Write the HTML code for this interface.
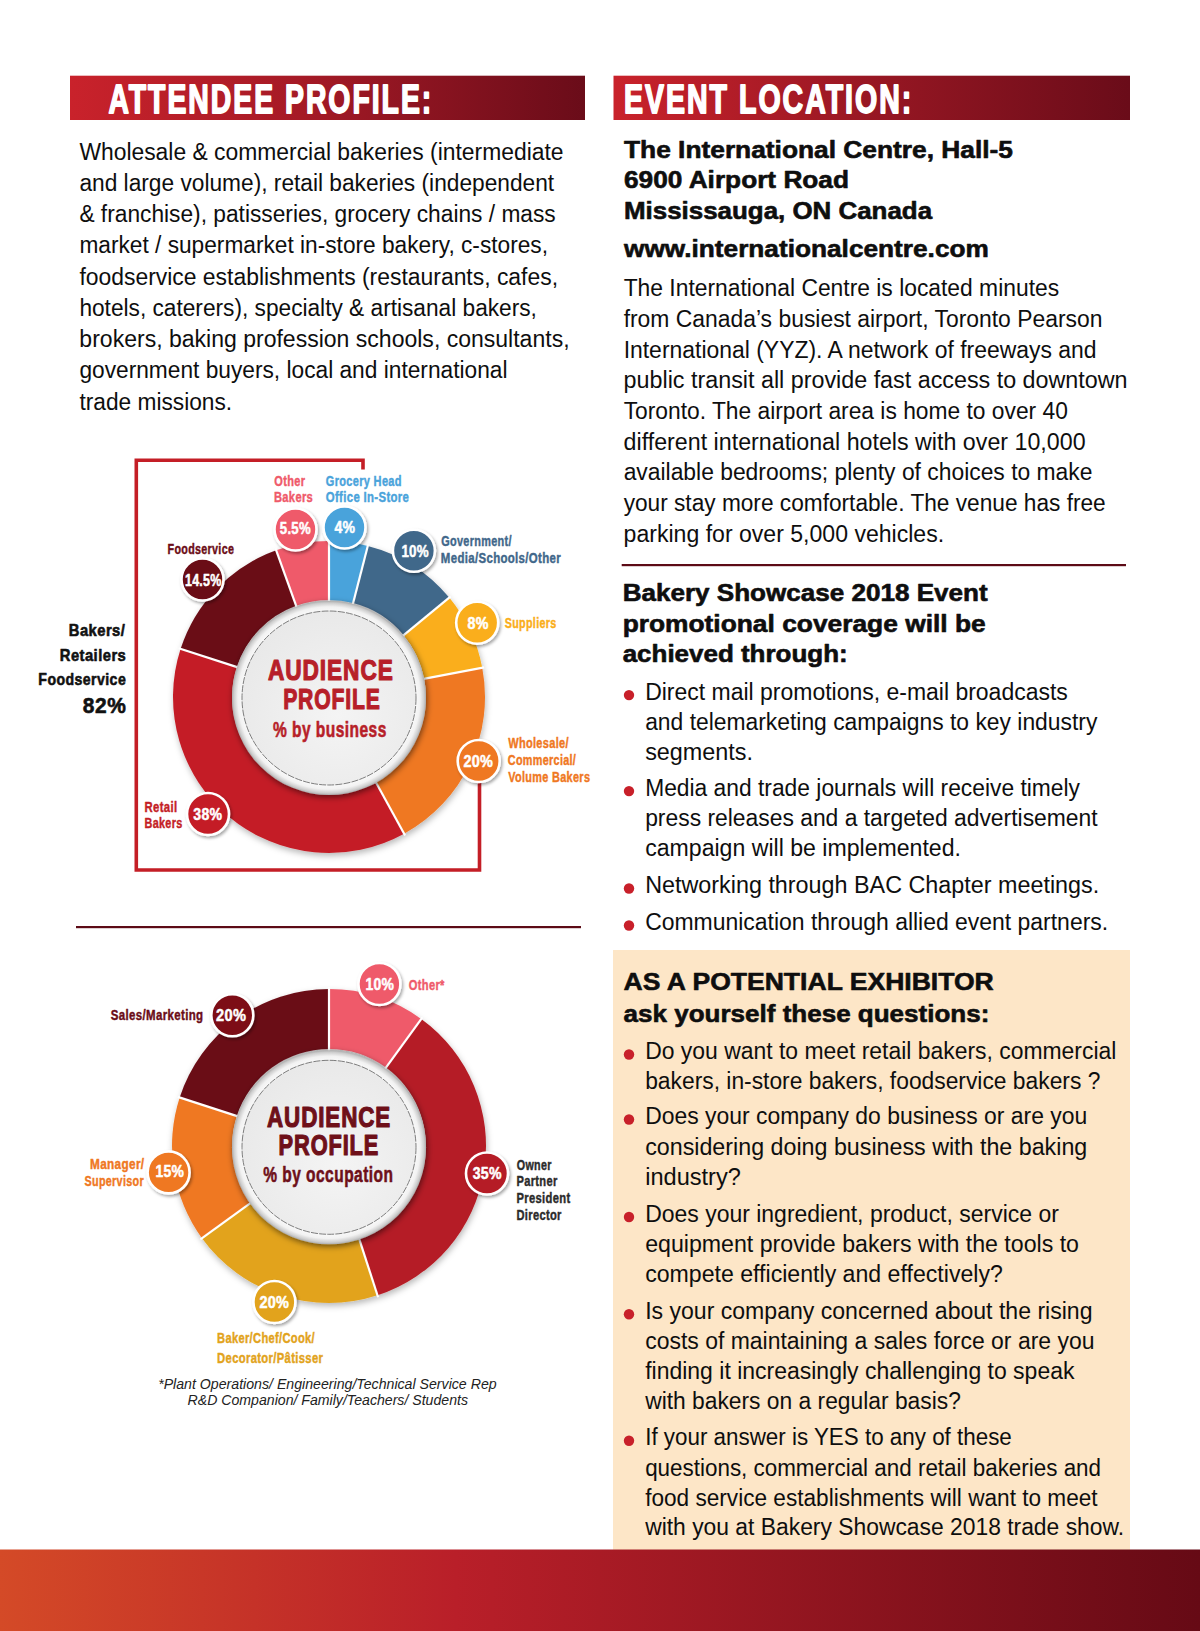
<!DOCTYPE html>
<html><head><meta charset="utf-8"><title>Attendee Profile</title>
<style>
html,body{margin:0;padding:0;background:#fff;}
svg{display:block;}
text{font-family:"Liberation Sans",sans-serif;}
</style></head><body>
<svg width="1200" height="1631" viewBox="0 0 1200 1631">
<defs>
<linearGradient id="hdrL" x1="0" x2="1" y1="0" y2="0"><stop offset="0" stop-color="#c9222b"/><stop offset="0.45" stop-color="#a51a26"/><stop offset="1" stop-color="#6a0c19"/></linearGradient>
<linearGradient id="hdrR" x1="0" x2="1" y1="0" y2="0"><stop offset="0" stop-color="#c9222b"/><stop offset="0.45" stop-color="#9c1824"/><stop offset="1" stop-color="#6a0c19"/></linearGradient>
<linearGradient id="btm" x1="0" x2="1" y1="0" y2="0"><stop offset="0" stop-color="#d44a27"/><stop offset="0.38" stop-color="#b91f29"/><stop offset="1" stop-color="#660a15"/></linearGradient>
<radialGradient id="rim" cx="0.5" cy="0.5" r="0.5"><stop offset="0.88" stop-color="#fbfbfb"/><stop offset="0.94" stop-color="#f2f2f2"/><stop offset="0.98" stop-color="#cdcdcd"/><stop offset="1" stop-color="#acacac"/></radialGradient>
<radialGradient id="face" cx="0.55" cy="0.6" r="0.6"><stop offset="0" stop-color="#f4f4f4"/><stop offset="1" stop-color="#e9e9e9"/></radialGradient>
<filter id="ringsh" x="-20%" y="-20%" width="140%" height="140%"><feDropShadow dx="1" dy="3" stdDeviation="3" flood-color="#000" flood-opacity="0.28"/></filter>
<filter id="platesh" x="-20%" y="-20%" width="140%" height="140%"><feDropShadow dx="1" dy="2" stdDeviation="3" flood-color="#000" flood-opacity="0.55"/></filter>
<filter id="badgesh" x="-40%" y="-40%" width="180%" height="180%"><feDropShadow dx="1.5" dy="2" stdDeviation="1.5" flood-color="#000" flood-opacity="0.35"/></filter>
</defs>
<rect width="1200" height="1631" fill="#fff"/>
<rect x="70" y="75.7" width="515" height="44.3" fill="url(#hdrL)"/>
<rect x="613.5" y="75.7" width="516.5" height="44.3" fill="url(#hdrR)"/>
<text x="108.40" y="113.10" font-size="40.98" font-weight="bold" font-style="normal" fill="#fff" textLength="324.90" lengthAdjust="spacingAndGlyphs" stroke="#fff" stroke-width="1.8" stroke-linejoin="round" letter-spacing="2.869">ATTENDEE PROFILE:</text>
<text x="623.96" y="113.10" font-size="40.98" font-weight="bold" font-style="normal" fill="#fff" textLength="289.31" lengthAdjust="spacingAndGlyphs" stroke="#fff" stroke-width="1.8" stroke-linejoin="round" letter-spacing="2.869">EVENT LOCATION:</text>
<text x="79.39" y="159.50" font-size="23.00" font-weight="normal" fill="#0e0e0e" textLength="484.15" lengthAdjust="spacingAndGlyphs">Wholesale &amp; commercial bakeries (intermediate</text>
<text x="79.39" y="190.75" font-size="23.00" font-weight="normal" fill="#0e0e0e" textLength="474.77" lengthAdjust="spacingAndGlyphs">and large volume), retail bakeries (independent</text>
<text x="79.39" y="222.00" font-size="23.00" font-weight="normal" fill="#0e0e0e" textLength="476.36" lengthAdjust="spacingAndGlyphs">&amp; franchise), patisseries, grocery chains / mass</text>
<text x="79.39" y="253.25" font-size="23.00" font-weight="normal" fill="#0e0e0e" textLength="468.65" lengthAdjust="spacingAndGlyphs">market / supermarket in-store bakery, c-stores,</text>
<text x="79.39" y="284.50" font-size="23.00" font-weight="normal" fill="#0e0e0e" textLength="478.65" lengthAdjust="spacingAndGlyphs">foodservice establishments (restaurants, cafes,</text>
<text x="79.39" y="315.75" font-size="23.00" font-weight="normal" fill="#0e0e0e" textLength="457.56" lengthAdjust="spacingAndGlyphs">hotels, caterers), specialty &amp; artisanal bakers,</text>
<text x="79.39" y="347.00" font-size="23.00" font-weight="normal" fill="#0e0e0e" textLength="490.17" lengthAdjust="spacingAndGlyphs">brokers, baking profession schools, consultants,</text>
<text x="79.39" y="378.25" font-size="23.00" font-weight="normal" fill="#0e0e0e" textLength="428.10" lengthAdjust="spacingAndGlyphs">government buyers, local and international</text>
<text x="79.39" y="409.50" font-size="23.00" font-weight="normal" fill="#0e0e0e" textLength="152.77" lengthAdjust="spacingAndGlyphs">trade missions.</text>
<text x="624.02" y="157.70" font-size="23.84" font-weight="bold" fill="#0e0e0e" textLength="388.88" lengthAdjust="spacingAndGlyphs" stroke="#0e0e0e" stroke-width="0.6" stroke-linejoin="round">The International Centre, Hall-5</text>
<text x="624.02" y="188.20" font-size="23.84" font-weight="bold" fill="#0e0e0e" textLength="224.95" lengthAdjust="spacingAndGlyphs" stroke="#0e0e0e" stroke-width="0.6" stroke-linejoin="round">6900 Airport Road</text>
<text x="624.02" y="218.70" font-size="23.84" font-weight="bold" fill="#0e0e0e" textLength="308.03" lengthAdjust="spacingAndGlyphs" stroke="#0e0e0e" stroke-width="0.6" stroke-linejoin="round">Mississauga, ON Canada</text>
<text x="624.02" y="257.20" font-size="23.84" font-weight="bold" fill="#0e0e0e" textLength="364.79" lengthAdjust="spacingAndGlyphs" stroke="#0e0e0e" stroke-width="0.6" stroke-linejoin="round">www.internationalcentre.com</text>
<text x="623.64" y="296.30" font-size="23.00" font-weight="normal" fill="#0e0e0e" textLength="435.49" lengthAdjust="spacingAndGlyphs">The International Centre is located minutes</text>
<text x="623.64" y="326.96" font-size="23.00" font-weight="normal" fill="#0e0e0e" textLength="478.84" lengthAdjust="spacingAndGlyphs">from Canada’s busiest airport, Toronto Pearson</text>
<text x="623.64" y="357.62" font-size="23.00" font-weight="normal" fill="#0e0e0e" textLength="472.90" lengthAdjust="spacingAndGlyphs">International (YYZ). A network of freeways and</text>
<text x="623.64" y="388.28" font-size="23.00" font-weight="normal" fill="#0e0e0e" textLength="503.93" lengthAdjust="spacingAndGlyphs">public transit all provide fast access to downtown</text>
<text x="623.64" y="418.94" font-size="23.00" font-weight="normal" fill="#0e0e0e" textLength="444.22" lengthAdjust="spacingAndGlyphs">Toronto. The airport area is home to over 40</text>
<text x="623.64" y="449.60" font-size="23.00" font-weight="normal" fill="#0e0e0e" textLength="461.94" lengthAdjust="spacingAndGlyphs">different international hotels with over 10,000</text>
<text x="623.64" y="480.26" font-size="23.00" font-weight="normal" fill="#0e0e0e" textLength="468.83" lengthAdjust="spacingAndGlyphs">available bedrooms; plenty of choices to make</text>
<text x="623.64" y="510.92" font-size="23.00" font-weight="normal" fill="#0e0e0e" textLength="482.09" lengthAdjust="spacingAndGlyphs">your stay more comfortable. The venue has free</text>
<text x="623.64" y="541.58" font-size="23.00" font-weight="normal" fill="#0e0e0e" textLength="320.48" lengthAdjust="spacingAndGlyphs">parking for over 5,000 vehicles.</text>
<rect x="621.7" y="564" width="504.3" height="2.2" fill="#5c0b16"/>
<text x="622.66" y="601.30" font-size="23.84" font-weight="bold" fill="#0e0e0e" textLength="365.02" lengthAdjust="spacingAndGlyphs" stroke="#0e0e0e" stroke-width="0.6" stroke-linejoin="round">Bakery Showcase 2018 Event</text>
<text x="622.66" y="632.10" font-size="23.84" font-weight="bold" fill="#0e0e0e" textLength="363.01" lengthAdjust="spacingAndGlyphs" stroke="#0e0e0e" stroke-width="0.6" stroke-linejoin="round">promotional coverage will be</text>
<text x="622.66" y="661.90" font-size="23.84" font-weight="bold" fill="#0e0e0e" textLength="225.00" lengthAdjust="spacingAndGlyphs" stroke="#0e0e0e" stroke-width="0.6" stroke-linejoin="round">achieved through:</text>
<circle cx="629" cy="695.10" r="5.2" fill="#c8202a"/>
<text x="645.16" y="699.60" font-size="23.00" font-weight="normal" fill="#0e0e0e" textLength="422.66" lengthAdjust="spacingAndGlyphs">Direct mail promotions, e-mail broadcasts</text>
<text x="645.16" y="729.80" font-size="23.00" font-weight="normal" fill="#0e0e0e" textLength="452.21" lengthAdjust="spacingAndGlyphs">and telemarketing campaigns to key industry</text>
<text x="645.16" y="759.50" font-size="23.00" font-weight="normal" fill="#0e0e0e" textLength="107.82" lengthAdjust="spacingAndGlyphs">segments.</text>
<circle cx="629" cy="791.10" r="5.2" fill="#c8202a"/>
<text x="645.16" y="795.60" font-size="23.00" font-weight="normal" fill="#0e0e0e" textLength="434.83" lengthAdjust="spacingAndGlyphs">Media and trade journals will receive timely</text>
<text x="645.16" y="826.00" font-size="23.00" font-weight="normal" fill="#0e0e0e" textLength="452.46" lengthAdjust="spacingAndGlyphs">press releases and a targeted advertisement</text>
<text x="645.16" y="856.00" font-size="23.00" font-weight="normal" fill="#0e0e0e" textLength="315.81" lengthAdjust="spacingAndGlyphs">campaign will be implemented.</text>
<circle cx="629" cy="888.50" r="5.2" fill="#c8202a"/>
<text x="645.16" y="893.00" font-size="23.00" font-weight="normal" fill="#0e0e0e" textLength="454.05" lengthAdjust="spacingAndGlyphs">Networking through BAC Chapter meetings.</text>
<circle cx="629" cy="925.50" r="5.2" fill="#c8202a"/>
<text x="645.16" y="930.00" font-size="23.00" font-weight="normal" fill="#0e0e0e" textLength="462.98" lengthAdjust="spacingAndGlyphs">Communication through allied event partners.</text>
<rect x="613" y="950" width="517" height="600" fill="#fde6c7"/>
<text x="623.61" y="990.20" font-size="24.56" font-weight="bold" font-style="normal" fill="#0e0e0e" textLength="370.18" lengthAdjust="spacingAndGlyphs" stroke="#0e0e0e" stroke-width="0.6" stroke-linejoin="round">AS A POTENTIAL EXHIBITOR</text>
<text x="623.63" y="1021.70" font-size="24.56" font-weight="bold" fill="#0e0e0e" textLength="365.71" lengthAdjust="spacingAndGlyphs" stroke="#0e0e0e" stroke-width="0.6" stroke-linejoin="round">ask yourself these questions:</text>
<circle cx="629" cy="1054.50" r="5.2" fill="#c8202a"/>
<text x="645.16" y="1059.00" font-size="23.00" font-weight="normal" fill="#0e0e0e" textLength="471.22" lengthAdjust="spacingAndGlyphs">Do you want to meet retail bakers, commercial</text>
<text x="645.16" y="1089.00" font-size="23.00" font-weight="normal" fill="#0e0e0e" textLength="455.22" lengthAdjust="spacingAndGlyphs">bakers, in-store bakers, foodservice bakers ?</text>
<circle cx="629" cy="1119.50" r="5.2" fill="#c8202a"/>
<text x="645.16" y="1124.00" font-size="23.00" font-weight="normal" fill="#0e0e0e" textLength="442.11" lengthAdjust="spacingAndGlyphs">Does your company do business or are you</text>
<text x="645.16" y="1155.00" font-size="23.00" font-weight="normal" fill="#0e0e0e" textLength="442.11" lengthAdjust="spacingAndGlyphs">considering doing business with the baking</text>
<text x="645.16" y="1185.00" font-size="23.00" font-weight="normal" fill="#0e0e0e" textLength="95.73" lengthAdjust="spacingAndGlyphs">industry?</text>
<circle cx="629" cy="1217.00" r="5.2" fill="#c8202a"/>
<text x="645.16" y="1221.50" font-size="23.00" font-weight="normal" fill="#0e0e0e" textLength="413.68" lengthAdjust="spacingAndGlyphs">Does your ingredient, product, service or</text>
<text x="645.16" y="1252.00" font-size="23.00" font-weight="normal" fill="#0e0e0e" textLength="433.84" lengthAdjust="spacingAndGlyphs">equipment provide bakers with the tools to</text>
<text x="645.16" y="1282.00" font-size="23.00" font-weight="normal" fill="#0e0e0e" textLength="357.71" lengthAdjust="spacingAndGlyphs">compete efficiently and effectively?</text>
<circle cx="629" cy="1314.30" r="5.2" fill="#c8202a"/>
<text x="645.16" y="1318.80" font-size="23.00" font-weight="normal" fill="#0e0e0e" textLength="447.35" lengthAdjust="spacingAndGlyphs">Is your company concerned about the rising</text>
<text x="645.16" y="1349.00" font-size="23.00" font-weight="normal" fill="#0e0e0e" textLength="449.35" lengthAdjust="spacingAndGlyphs">costs of maintaining a sales force or are you</text>
<text x="645.16" y="1379.00" font-size="23.00" font-weight="normal" fill="#0e0e0e" textLength="429.31" lengthAdjust="spacingAndGlyphs">finding it increasingly challenging to speak</text>
<text x="645.16" y="1409.00" font-size="23.00" font-weight="normal" fill="#0e0e0e" textLength="315.66" lengthAdjust="spacingAndGlyphs">with bakers on a regular basis?</text>
<circle cx="629" cy="1440.80" r="5.2" fill="#c8202a"/>
<text x="645.16" y="1445.30" font-size="23.00" font-weight="normal" fill="#0e0e0e" textLength="366.63" lengthAdjust="spacingAndGlyphs">If your answer is YES to any of these</text>
<text x="645.16" y="1476.00" font-size="23.00" font-weight="normal" fill="#0e0e0e" textLength="455.88" lengthAdjust="spacingAndGlyphs">questions, commercial and retail bakeries and</text>
<text x="645.16" y="1506.00" font-size="23.00" font-weight="normal" fill="#0e0e0e" textLength="452.45" lengthAdjust="spacingAndGlyphs">food service establishments will want to meet</text>
<text x="645.16" y="1535.40" font-size="23.00" font-weight="normal" fill="#0e0e0e" textLength="478.94" lengthAdjust="spacingAndGlyphs">with you at Bakery Showcase 2018 trade show.</text>
<rect x="0" y="1549.5" width="1200" height="82" fill="url(#btm)"/>
<rect x="76" y="926" width="505" height="2.2" fill="#5c0b16"/>
<path d="M363,469.5 V460.3 H136.3 V870 H479.5 V783" fill="none" stroke="#c41e26" stroke-width="3.6"/>
<g filter="url(#ringsh)">
<path d="M329.00,541.00 A156,156 0 0 1 367.80,545.90 L353.12,603.05 A97,97 0 0 0 329.00,600.00 Z" fill="#4aa3db"/>
<path d="M367.80,545.90 A156,156 0 0 1 449.20,597.56 L403.74,635.17 A97,97 0 0 0 353.12,603.05 Z" fill="#41678a"/>
<path d="M449.20,597.56 A156,156 0 0 1 482.24,667.77 L424.28,678.82 A97,97 0 0 0 403.74,635.17 Z" fill="#faae1a"/>
<path d="M482.24,667.77 A156,156 0 0 1 404.15,833.70 L375.73,782.00 A97,97 0 0 0 424.28,678.82 Z" fill="#ef7823"/>
<path d="M404.15,833.70 A156,156 0 0 1 180.64,648.79 L236.75,667.03 A97,97 0 0 0 375.73,782.00 Z" fill="#c41e26"/>
<path d="M180.64,648.79 A156,156 0 0 1 276.16,550.22 L296.14,605.73 A97,97 0 0 0 236.75,667.03 Z" fill="#6b0d17"/>
<path d="M276.16,550.22 A156,156 0 0 1 329.00,541.00 L329.00,600.00 A97,97 0 0 0 296.14,605.73 Z" fill="#ef5a6a"/>
</g>
<line x1="329.00" y1="602.00" x2="329.00" y2="539.00" stroke="#fff" stroke-width="2.2"/>
<line x1="352.63" y1="604.98" x2="368.29" y2="543.96" stroke="#fff" stroke-width="2.2"/>
<line x1="402.20" y1="636.44" x2="450.74" y2="596.29" stroke="#fff" stroke-width="2.2"/>
<line x1="422.32" y1="679.20" x2="484.20" y2="667.39" stroke="#fff" stroke-width="2.2"/>
<line x1="374.77" y1="780.25" x2="405.12" y2="835.46" stroke="#fff" stroke-width="2.2"/>
<line x1="238.65" y1="667.64" x2="178.73" y2="648.18" stroke="#fff" stroke-width="2.2"/>
<line x1="296.82" y1="607.62" x2="275.48" y2="548.34" stroke="#fff" stroke-width="2.2"/>
<circle cx="329" cy="698" r="97" fill="url(#rim)" filter="url(#platesh)"/>
<circle cx="329" cy="698" r="87" fill="url(#face)"/>
<circle cx="329" cy="698" r="87" fill="none" stroke="#6f6f6f" stroke-width="0.9" stroke-dasharray="7 1.2"/>
<text x="267.97" y="680.20" font-size="28.76" font-weight="bold" font-style="normal" fill="#b71f29" textLength="125.75" lengthAdjust="spacingAndGlyphs" stroke="#b71f29" stroke-width="1.2" stroke-linejoin="round" letter-spacing="1.150">AUDIENCE</text>
<text x="283.17" y="709.40" font-size="28.76" font-weight="bold" font-style="normal" fill="#b71f29" textLength="97.56" lengthAdjust="spacingAndGlyphs" stroke="#b71f29" stroke-width="1.2" stroke-linejoin="round" letter-spacing="1.150">PROFILE</text>
<text x="272.88" y="736.50" font-size="22.13" font-weight="bold" font-style="normal" fill="#b71f29" textLength="113.96" lengthAdjust="spacingAndGlyphs" stroke="#b71f29" stroke-width="0.6" stroke-linejoin="round" letter-spacing="0.664">% by business</text>
<circle cx="295.5" cy="529.5" r="21" fill="#ef5a6a" stroke="#fff" stroke-width="2.6" filter="url(#badgesh)"/>
<circle cx="344.5" cy="527.5" r="21" fill="#4aa3db" stroke="#fff" stroke-width="2.6" filter="url(#badgesh)"/>
<circle cx="413.9" cy="550.7" r="21" fill="#41678a" stroke="#fff" stroke-width="2.6" filter="url(#badgesh)"/>
<circle cx="202.5" cy="579.5" r="21" fill="#6b0d17" stroke="#fff" stroke-width="2.6" filter="url(#badgesh)"/>
<circle cx="477.2" cy="622.8" r="21" fill="#faae1a" stroke="#fff" stroke-width="2.6" filter="url(#badgesh)"/>
<circle cx="478.7" cy="761" r="21" fill="#ef7823" stroke="#fff" stroke-width="2.6" filter="url(#badgesh)"/>
<circle cx="208" cy="814" r="21" fill="#c41e26" stroke="#fff" stroke-width="2.6" filter="url(#badgesh)"/>
<text x="279.83" y="534.25" font-size="16.27" font-weight="bold" font-style="normal" fill="#fff" textLength="31.03" lengthAdjust="spacingAndGlyphs" stroke="#fff" stroke-width="0.5" stroke-linejoin="round" letter-spacing="0.325">5.5%</text>
<text x="334.51" y="533.25" font-size="16.27" font-weight="bold" font-style="normal" fill="#fff" textLength="20.90" lengthAdjust="spacingAndGlyphs" stroke="#fff" stroke-width="0.5" stroke-linejoin="round" letter-spacing="0.325">4%</text>
<text x="184.98" y="585.50" font-size="16.27" font-weight="bold" font-style="normal" fill="#fff" textLength="36.62" lengthAdjust="spacingAndGlyphs" stroke="#fff" stroke-width="0.5" stroke-linejoin="round" letter-spacing="0.325">14.5%</text>
<text x="401.42" y="557.45" font-size="16.27" font-weight="bold" font-style="normal" fill="#fff" textLength="27.57" lengthAdjust="spacingAndGlyphs" stroke="#fff" stroke-width="0.5" stroke-linejoin="round" letter-spacing="0.325">10%</text>
<text x="467.50" y="629.05" font-size="16.27" font-weight="bold" font-style="normal" fill="#fff" textLength="21.23" lengthAdjust="spacingAndGlyphs" stroke="#fff" stroke-width="0.5" stroke-linejoin="round" letter-spacing="0.325">8%</text>
<text x="463.42" y="767.45" font-size="16.27" font-weight="bold" font-style="normal" fill="#fff" textLength="29.72" lengthAdjust="spacingAndGlyphs" stroke="#fff" stroke-width="0.5" stroke-linejoin="round" letter-spacing="0.325">20%</text>
<text x="193.37" y="819.75" font-size="16.27" font-weight="bold" font-style="normal" fill="#fff" textLength="29.06" lengthAdjust="spacingAndGlyphs" stroke="#fff" stroke-width="0.5" stroke-linejoin="round" letter-spacing="0.325">38%</text>
<text x="274.26" y="485.77" font-size="15.35" font-weight="bold" font-style="normal" fill="#ef5a6a" textLength="31.00" lengthAdjust="spacingAndGlyphs" stroke="#ef5a6a" stroke-width="0.45" stroke-linejoin="round" letter-spacing="0.460">Other</text>
<text x="273.98" y="502.27" font-size="15.35" font-weight="bold" font-style="normal" fill="#ef5a6a" textLength="39.11" lengthAdjust="spacingAndGlyphs" stroke="#ef5a6a" stroke-width="0.45" stroke-linejoin="round" letter-spacing="0.460">Bakers</text>
<text x="325.76" y="485.77" font-size="15.35" font-weight="bold" font-style="normal" fill="#4aa3db" textLength="76.06" lengthAdjust="spacingAndGlyphs" stroke="#4aa3db" stroke-width="0.45" stroke-linejoin="round" letter-spacing="0.460">Grocery Head</text>
<text x="325.75" y="502.27" font-size="15.35" font-weight="bold" font-style="normal" fill="#4aa3db" textLength="83.54" lengthAdjust="spacingAndGlyphs" stroke="#4aa3db" stroke-width="0.45" stroke-linejoin="round" letter-spacing="0.460">Office In-Store</text>
<text x="167.51" y="553.52" font-size="15.35" font-weight="bold" font-style="normal" fill="#6b0d17" textLength="66.75" lengthAdjust="spacingAndGlyphs" stroke="#6b0d17" stroke-width="0.45" stroke-linejoin="round" letter-spacing="0.460">Foodservice</text>
<text x="441.17" y="546.48" font-size="15.35" font-weight="bold" font-style="normal" fill="#41678a" textLength="70.64" lengthAdjust="spacingAndGlyphs" stroke="#41678a" stroke-width="0.45" stroke-linejoin="round" letter-spacing="0.460">Government/</text>
<text x="440.86" y="562.98" font-size="15.35" font-weight="bold" font-style="normal" fill="#41678a" textLength="120.17" lengthAdjust="spacingAndGlyphs" stroke="#41678a" stroke-width="0.45" stroke-linejoin="round" letter-spacing="0.460">Media/Schools/Other</text>
<text x="504.68" y="628.07" font-size="15.35" font-weight="bold" font-style="normal" fill="#faae1a" textLength="51.89" lengthAdjust="spacingAndGlyphs" stroke="#faae1a" stroke-width="0.45" stroke-linejoin="round" letter-spacing="0.460">Suppliers</text>
<text x="508.20" y="747.98" font-size="15.35" font-weight="bold" font-style="normal" fill="#ef7823" textLength="60.72" lengthAdjust="spacingAndGlyphs" stroke="#ef7823" stroke-width="0.45" stroke-linejoin="round" letter-spacing="0.460">Wholesale/</text>
<text x="507.77" y="765.27" font-size="15.35" font-weight="bold" font-style="normal" fill="#ef7823" textLength="68.43" lengthAdjust="spacingAndGlyphs" stroke="#ef7823" stroke-width="0.45" stroke-linejoin="round" letter-spacing="0.460">Commercial/</text>
<text x="508.15" y="781.77" font-size="15.35" font-weight="bold" font-style="normal" fill="#ef7823" textLength="82.13" lengthAdjust="spacingAndGlyphs" stroke="#ef7823" stroke-width="0.45" stroke-linejoin="round" letter-spacing="0.460">Volume Bakers</text>
<text x="144.46" y="811.77" font-size="15.35" font-weight="bold" font-style="normal" fill="#c41e26" textLength="32.95" lengthAdjust="spacingAndGlyphs" stroke="#c41e26" stroke-width="0.45" stroke-linejoin="round" letter-spacing="0.460">Retail</text>
<text x="144.50" y="828.27" font-size="15.35" font-weight="bold" font-style="normal" fill="#c41e26" textLength="38.07" lengthAdjust="spacingAndGlyphs" stroke="#c41e26" stroke-width="0.45" stroke-linejoin="round" letter-spacing="0.460">Bakers</text>
<text x="68.81" y="636.20" font-size="17.13" font-weight="bold" font-style="normal" fill="#111" textLength="56.49" lengthAdjust="spacingAndGlyphs" stroke="#111" stroke-width="0.6" stroke-linejoin="round" letter-spacing="0.514">Bakers/</text>
<text x="59.81" y="660.70" font-size="17.13" font-weight="bold" font-style="normal" fill="#111" textLength="66.45" lengthAdjust="spacingAndGlyphs" stroke="#111" stroke-width="0.6" stroke-linejoin="round" letter-spacing="0.514">Retailers</text>
<text x="38.35" y="685.20" font-size="17.13" font-weight="bold" font-style="normal" fill="#111" textLength="87.81" lengthAdjust="spacingAndGlyphs" stroke="#111" stroke-width="0.6" stroke-linejoin="round" letter-spacing="0.514">Foodservice</text>
<text x="82.64" y="713.20" font-size="22.13" font-weight="bold" font-style="normal" fill="#111" textLength="43.77" lengthAdjust="spacingAndGlyphs" stroke="#111" stroke-width="0.6" stroke-linejoin="round" letter-spacing="0.664">82%</text>
<g filter="url(#ringsh)">
<path d="M329.00,989.00 A157,157 0 0 1 421.28,1018.98 L386.02,1067.53 A97,97 0 0 0 329.00,1049.00 Z" fill="#ef5a6a"/>
<path d="M421.28,1018.98 A157,157 0 0 1 377.52,1295.32 L358.97,1238.25 A97,97 0 0 0 386.02,1067.53 Z" fill="#b51d25"/>
<path d="M377.52,1295.32 A157,157 0 0 1 201.98,1238.28 L250.53,1203.02 A97,97 0 0 0 358.97,1238.25 Z" fill="#e2a31c"/>
<path d="M201.98,1238.28 A157,157 0 0 1 179.68,1097.48 L236.75,1116.03 A97,97 0 0 0 250.53,1203.02 Z" fill="#ef7823"/>
<path d="M179.68,1097.48 A157,157 0 0 1 329.00,989.00 L329.00,1049.00 A97,97 0 0 0 236.75,1116.03 Z" fill="#6b0d17"/>
</g>
<line x1="329.00" y1="1051.00" x2="329.00" y2="987.00" stroke="#fff" stroke-width="2.2"/>
<line x1="384.84" y1="1069.14" x2="422.46" y2="1017.37" stroke="#fff" stroke-width="2.2"/>
<line x1="358.36" y1="1236.35" x2="378.13" y2="1297.22" stroke="#fff" stroke-width="2.2"/>
<line x1="252.14" y1="1201.84" x2="200.37" y2="1239.46" stroke="#fff" stroke-width="2.2"/>
<line x1="238.65" y1="1116.64" x2="177.78" y2="1096.87" stroke="#fff" stroke-width="2.2"/>
<circle cx="329" cy="1147.3" r="97" fill="url(#rim)" filter="url(#platesh)"/>
<circle cx="329" cy="1147.3" r="87" fill="url(#face)"/>
<circle cx="329" cy="1147.3" r="87" fill="none" stroke="#6f6f6f" stroke-width="0.9" stroke-dasharray="7 1.2"/>
<text x="266.98" y="1126.60" font-size="28.76" font-weight="bold" font-style="normal" fill="#6e1019" textLength="124.22" lengthAdjust="spacingAndGlyphs" stroke="#6e1019" stroke-width="1.2" stroke-linejoin="round" letter-spacing="1.150">AUDIENCE</text>
<text x="278.62" y="1154.90" font-size="28.76" font-weight="bold" font-style="normal" fill="#6e1019" textLength="100.55" lengthAdjust="spacingAndGlyphs" stroke="#6e1019" stroke-width="1.2" stroke-linejoin="round" letter-spacing="1.150">PROFILE</text>
<text x="263.28" y="1182.20" font-size="22.13" font-weight="bold" font-style="normal" fill="#6e1019" textLength="130.15" lengthAdjust="spacingAndGlyphs" stroke="#6e1019" stroke-width="0.6" stroke-linejoin="round" letter-spacing="0.664">% by occupation</text>
<circle cx="379.4" cy="984" r="21" fill="#ef5a6a" stroke="#fff" stroke-width="2.6" filter="url(#badgesh)"/>
<circle cx="232.3" cy="1015.2" r="21" fill="#7d0f17" stroke="#fff" stroke-width="2.6" filter="url(#badgesh)"/>
<circle cx="168.6" cy="1172.4" r="21" fill="#ef7823" stroke="#fff" stroke-width="2.6" filter="url(#badgesh)"/>
<circle cx="487" cy="1173.5" r="21" fill="#b51d25" stroke="#fff" stroke-width="2.6" filter="url(#badgesh)"/>
<circle cx="274.4" cy="1302" r="21" fill="#e2a31c" stroke="#fff" stroke-width="2.6" filter="url(#badgesh)"/>
<text x="365.39" y="989.95" font-size="16.27" font-weight="bold" font-style="normal" fill="#fff" textLength="28.73" lengthAdjust="spacingAndGlyphs" stroke="#fff" stroke-width="0.5" stroke-linejoin="round" letter-spacing="0.325">10%</text>
<text x="216.12" y="1020.75" font-size="16.27" font-weight="bold" font-style="normal" fill="#fff" textLength="30.04" lengthAdjust="spacingAndGlyphs" stroke="#fff" stroke-width="0.5" stroke-linejoin="round" letter-spacing="0.325">20%</text>
<text x="155.49" y="1177.45" font-size="16.27" font-weight="bold" font-style="normal" fill="#fff" textLength="28.73" lengthAdjust="spacingAndGlyphs" stroke="#fff" stroke-width="0.5" stroke-linejoin="round" letter-spacing="0.325">15%</text>
<text x="472.67" y="1179.45" font-size="16.27" font-weight="bold" font-style="normal" fill="#fff" textLength="29.06" lengthAdjust="spacingAndGlyphs" stroke="#fff" stroke-width="0.5" stroke-linejoin="round" letter-spacing="0.325">35%</text>
<text x="259.42" y="1308.35" font-size="16.27" font-weight="bold" font-style="normal" fill="#fff" textLength="29.83" lengthAdjust="spacingAndGlyphs" stroke="#fff" stroke-width="0.5" stroke-linejoin="round" letter-spacing="0.325">20%</text>
<text x="408.76" y="989.98" font-size="15.35" font-weight="bold" font-style="normal" fill="#ef5a6a" textLength="36.04" lengthAdjust="spacingAndGlyphs" stroke="#ef5a6a" stroke-width="0.45" stroke-linejoin="round" letter-spacing="0.460">Other*</text>
<text x="110.86" y="1019.77" font-size="15.35" font-weight="bold" font-style="normal" fill="#6b0d17" textLength="92.52" lengthAdjust="spacingAndGlyphs" stroke="#6b0d17" stroke-width="0.45" stroke-linejoin="round" letter-spacing="0.460">Sales/Marketing</text>
<text x="90.04" y="1169.28" font-size="15.35" font-weight="bold" font-style="normal" fill="#ef7823" textLength="54.43" lengthAdjust="spacingAndGlyphs" stroke="#ef7823" stroke-width="0.45" stroke-linejoin="round" letter-spacing="0.460">Manager/</text>
<text x="84.48" y="1186.08" font-size="15.35" font-weight="bold" font-style="normal" fill="#ef7823" textLength="59.49" lengthAdjust="spacingAndGlyphs" stroke="#ef7823" stroke-width="0.45" stroke-linejoin="round" letter-spacing="0.460">Supervisor</text>
<text x="516.77" y="1169.58" font-size="15.35" font-weight="bold" font-style="normal" fill="#2b2b2b" textLength="34.97" lengthAdjust="spacingAndGlyphs" stroke="#2b2b2b" stroke-width="0.45" stroke-linejoin="round" letter-spacing="0.460">Owner</text>
<text x="516.48" y="1186.48" font-size="15.35" font-weight="bold" font-style="normal" fill="#2b2b2b" textLength="41.13" lengthAdjust="spacingAndGlyphs" stroke="#2b2b2b" stroke-width="0.45" stroke-linejoin="round" letter-spacing="0.460">Partner</text>
<text x="516.48" y="1202.78" font-size="15.35" font-weight="bold" font-style="normal" fill="#2b2b2b" textLength="53.99" lengthAdjust="spacingAndGlyphs" stroke="#2b2b2b" stroke-width="0.45" stroke-linejoin="round" letter-spacing="0.460">President</text>
<text x="516.48" y="1219.78" font-size="15.35" font-weight="bold" font-style="normal" fill="#2b2b2b" textLength="45.21" lengthAdjust="spacingAndGlyphs" stroke="#2b2b2b" stroke-width="0.45" stroke-linejoin="round" letter-spacing="0.460">Director</text>
<text x="217.08" y="1343.28" font-size="15.35" font-weight="bold" font-style="normal" fill="#e2a31c" textLength="97.91" lengthAdjust="spacingAndGlyphs" stroke="#e2a31c" stroke-width="0.45" stroke-linejoin="round" letter-spacing="0.460">Baker/Chef/Cook/</text>
<text x="217.07" y="1363.18" font-size="15.35" font-weight="bold" font-style="normal" fill="#e2a31c" textLength="106.21" lengthAdjust="spacingAndGlyphs" stroke="#e2a31c" stroke-width="0.45" stroke-linejoin="round" letter-spacing="0.460">Decorator/Pâtisser</text>
<text x="158.15" y="1388.70" font-size="15.00" font-weight="normal" font-style="italic" fill="#222" textLength="338.50" lengthAdjust="spacingAndGlyphs">*Plant Operations/ Engineering/Technical Service Rep</text>
<text x="187.58" y="1404.60" font-size="15.00" font-weight="normal" font-style="italic" fill="#222" textLength="280.42" lengthAdjust="spacingAndGlyphs">R&amp;D Companion/ Family/Teachers/ Students</text>
</svg>
</body></html>
